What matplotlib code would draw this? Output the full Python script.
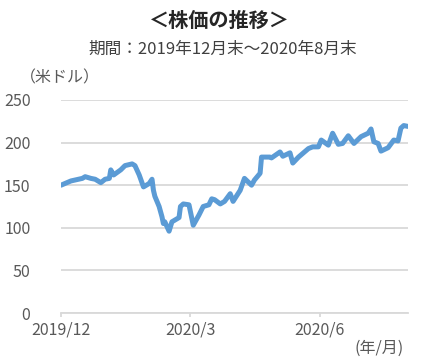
import matplotlib
matplotlib.use("Agg")
import matplotlib.pyplot as plt
import pandas as pd

plt.rcParams["font.family"] = ["Noto Sans CJK JP", "DejaVu Sans"]

# values (US$)
dates = [
    "2019-12-31", "2020-01-07", "2020-01-15", "2020-01-17", "2020-01-21",
    "2020-01-24", "2020-01-28", "2020-01-31", "2020-02-03", "2020-02-04",
    "2020-02-06", "2020-02-11", "2020-02-14", "2020-02-19", "2020-02-21",
    "2020-02-24", "2020-02-27", "2020-03-02", "2020-03-04", "2020-03-05",
    "2020-03-06", "2020-03-09", "2020-03-11", "2020-03-12", "2020-03-13",
    "2020-03-16", "2020-03-18", "2020-03-23", "2020-03-24", "2020-03-26",
    "2020-03-30", "2020-04-02", "2020-04-06", "2020-04-09", "2020-04-13",
    "2020-04-15", "2020-04-17", "2020-04-21", "2020-04-24", "2020-04-28",
    "2020-04-30", "2020-05-05", "2020-05-08", "2020-05-13", "2020-05-15",
    "2020-05-19", "2020-05-20", "2020-05-26", "2020-05-27", "2020-06-02",
    "2020-06-04", "2020-06-09", "2020-06-11", "2020-06-15", "2020-06-22",
    "2020-06-25", "2020-06-29", "2020-07-01", "2020-07-06", "2020-07-09",
    "2020-07-13", "2020-07-16", "2020-07-20", "2020-07-24", "2020-07-29",
    "2020-08-03", "2020-08-05", "2020-08-07", "2020-08-10", "2020-08-12",
    "2020-08-17", "2020-08-21", "2020-08-24", "2020-08-26", "2020-08-28",
    "2020-08-31",
]
prices = [
    150, 155, 158, 160, 158,
    157, 153, 157, 158, 168,
    162, 168, 173, 175, 173,
    162, 148, 152, 157, 144,
    137, 125, 113, 105, 107,
    96, 107, 112, 125, 128,
    127, 103, 115, 125, 127,
    134, 133, 128, 131, 140,
    131, 144, 158, 150, 156,
    164, 183, 183, 182, 189,
    184, 188, 176, 183, 193,
    195, 195, 203, 197, 211,
    198, 199, 208, 199, 207,
    211, 216, 201, 199, 190,
    194, 203, 202, 217, 220,
    219,
]
xticks = ["2019-12-31", "2020-03-31", "2020-06-30"]
xtick_labels = ["2019/12", "2020/3", "2020/6"]
yticks = [0, 50, 100, 150, 200, 250]

x = pd.to_datetime(dates)

fig = plt.figure(figsize=(4.21, 3.64), dpi=100)
ax = fig.add_axes([61 / 421, 51 / 364, 347 / 421, 213 / 364])

ax.plot(x, prices, color="#5B9BD5", lw=3.6, solid_joinstyle="round",
        solid_capstyle="round", zorder=3)

ax.set_ylim(0, 250)
ax.set_yticks(yticks)
ax.set_xlim(pd.Timestamp("2019-12-31"), pd.Timestamp("2020-08-31"))
ax.set_xticks(pd.to_datetime(xticks))
ax.set_xticklabels(xtick_labels)

ax.grid(axis="y", color="#D9D9D9", lw=1.3)
ax.set_axisbelow(True)
for s in ["top", "right", "left"]:
    ax.spines[s].set_visible(False)
ax.spines["bottom"].set_color("#D9D9D9")
ax.spines["bottom"].set_linewidth(1.3)
ax.tick_params(axis="y", length=0, pad=22, labelsize=11.5, labelcolor="#595959")
ax.tick_params(axis="x", length=3, width=1.3, color="#D9D9D9", pad=3,
               labelsize=11.5, labelcolor="#595959")

fig.text(0.52, 1 - 20 / 364, "＜株価の推移＞", ha="center", va="center",
         fontsize=14.5, fontweight="bold", color="#262626")
fig.text(0.53, 1 - 49 / 364, "期間：2019年12月末～2020年8月末", ha="center",
         va="center", fontsize=12, color="#404040")
fig.text(20 / 421, 1 - 78 / 364, "（米ドル）", ha="left", va="center",
         fontsize=11.5, color="#595959")
fig.text(404 / 421, 1 - 348 / 364, "(年/月)", ha="right", va="center",
         fontsize=11.5, color="#595959")

fig.savefig("out.png", dpi=100)
